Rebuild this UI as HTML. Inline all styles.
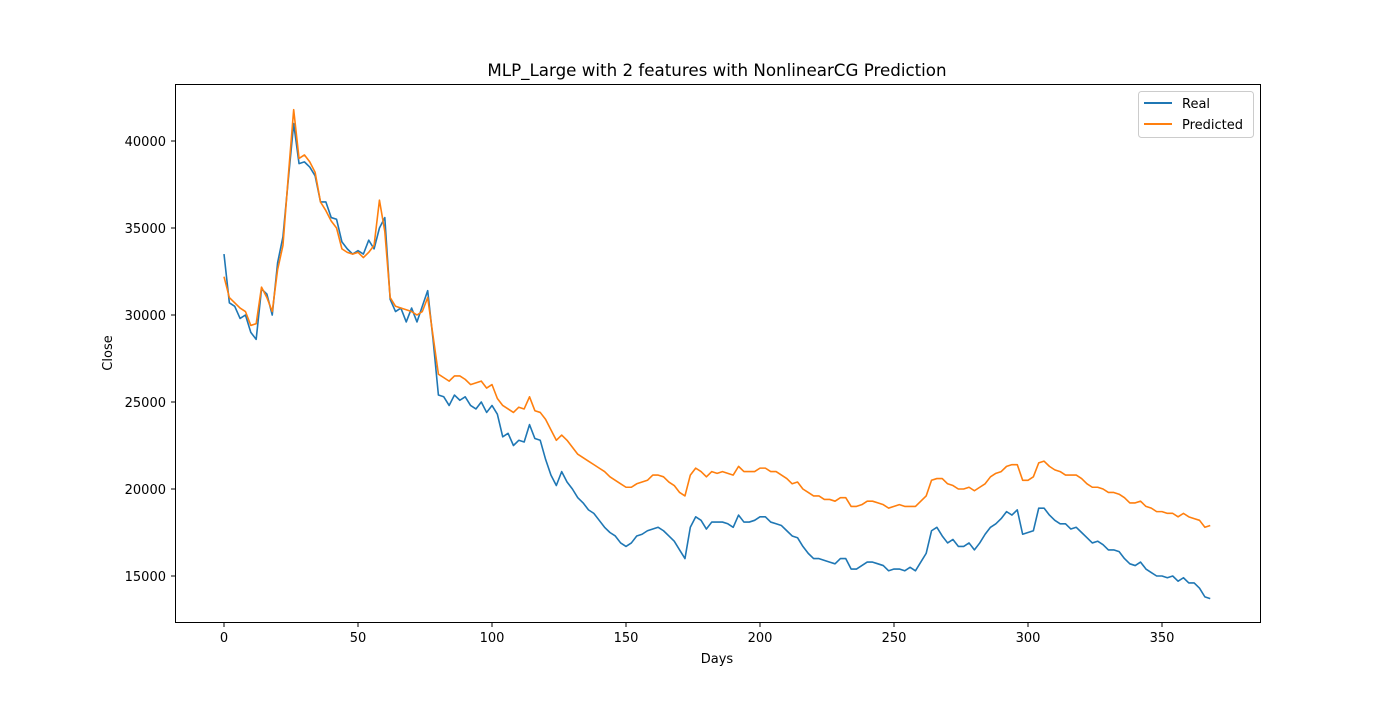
<!DOCTYPE html>
<html><head><meta charset="utf-8"><style>
body{margin:0;background:#fff;font-family:"Liberation Sans","DejaVu Sans",sans-serif;}
svg text{font-family:"DejaVu Sans","Liberation Sans",sans-serif;fill:#000;}
</style></head><body>
<svg id="chart" width="1400" height="700" xmlns="http://www.w3.org/2000/svg">
<rect width="1400" height="700" fill="#fff"/>
<text x="717" y="76" font-size="16.7" text-anchor="middle">MLP_Large with 2 features with NonlinearCG Prediction</text>
<g id="plot"></g>
<rect x="175.5" y="84.5" width="1085" height="538" fill="none" stroke="#000" stroke-width="1"/>
<g id="axes"></g>
<text x="717" y="663" font-size="13" text-anchor="middle">Days</text>
<text transform="translate(112,353) rotate(-90)" font-size="13" text-anchor="middle">Close</text>
<g>
<rect x="1138.5" y="91.5" width="115" height="46" rx="3" fill="#fff" stroke="#ccc"/>
<line x1="1144" y1="103" x2="1172" y2="103" stroke="#1f77b4" stroke-width="2"/>
<text x="1182" y="108" font-size="13">Real</text>
<line x1="1144" y1="124" x2="1172" y2="124" stroke="#ff7f0e" stroke-width="2"/>
<text x="1182" y="129" font-size="13">Predicted</text>
</g>
</svg>
<script>
const dayStep = 2;
const xTicks = [0,50,100,150,200,250,300,350];
const yTicks = [15000,20000,25000,30000,35000,40000];
const realValues = [33500,30700,30500,29800,30000,29000,28600,31500,31200,30000,33000,34500,37800,41000,38700,38800,38500,38000,36500,36500,35600,35500,34200,33800,33500,33700,33500,34300,33800,35000,35600,30900,30200,30400,29600,30400,29600,30500,31400,28600,25400,25300,24800,25400,25100,25300,24800,24600,25000,24400,24800,24300,23000,23200,22500,22800,22700,23700,22900,22800,21700,20800,20200,21000,20400,20000,19500,19200,18800,18600,18200,17800,17500,17300,16900,16700,16900,17300,17400,17600,17700,17800,17600,17300,17000,16500,16000,17800,18400,18200,17700,18100,18100,18100,18000,17800,18500,18100,18100,18200,18400,18400,18100,18000,17900,17600,17300,17200,16700,16300,16000,16000,15900,15800,15700,16000,16000,15400,15400,15600,15800,15800,15700,15600,15300,15400,15400,15300,15500,15300,15800,16300,17600,17800,17300,16900,17100,16700,16700,16900,16500,16900,17400,17800,18000,18300,18700,18500,18800,17400,17500,17600,18900,18900,18500,18200,18000,18000,17700,17800,17500,17200,16900,17000,16800,16500,16500,16400,16000,15700,15600,15800,15400,15200,15000,15000,14900,15000,14700,14900,14600,14600,14300,13800,13700];
const predictedValues = [32200,31000,30700,30400,30200,29400,29500,31600,31000,30200,32600,34000,38000,41800,39000,39200,38800,38200,36500,36000,35400,35000,33800,33600,33500,33600,33300,33600,34000,36600,34800,31000,30500,30400,30300,30200,30000,30200,31000,28800,26600,26400,26200,26500,26500,26300,26000,26100,26200,25800,26000,25200,24800,24600,24400,24700,24600,25300,24500,24400,24000,23400,22800,23100,22800,22400,22000,21800,21600,21400,21200,21000,20700,20500,20300,20100,20100,20300,20400,20500,20800,20800,20700,20400,20200,19800,19600,20800,21200,21000,20700,21000,20900,21000,20900,20800,21300,21000,21000,21000,21200,21200,21000,21000,20800,20600,20300,20400,20000,19800,19600,19600,19400,19400,19300,19500,19500,19000,19000,19100,19300,19300,19200,19100,18900,19000,19100,19000,19000,19000,19300,19600,20500,20600,20600,20300,20200,20000,20000,20100,19900,20100,20300,20700,20900,21000,21300,21400,21400,20500,20500,20700,21500,21600,21300,21100,21000,20800,20800,20800,20600,20300,20100,20100,20000,19800,19800,19700,19500,19200,19200,19300,19000,18900,18700,18700,18600,18600,18400,18600,18400,18300,18200,17800,17900];

const NS="http://www.w3.org/2000/svg";
function xs(d){return 224 + d*(1162-224)/350;}
function ys(v){return 141 + (40000-v)*(576-141)/25000;}
const axes=document.getElementById('axes'), plot=document.getElementById('plot');
xTicks.forEach(t=>{
  const x=xs(t);
  const l=document.createElementNS(NS,'line');
  l.setAttribute('x1',x);l.setAttribute('x2',x);l.setAttribute('y1',622.5);l.setAttribute('y2',627);l.setAttribute('stroke','#000');
  
  
  axes.appendChild(l);
  const tx=document.createElementNS(NS,'text');
  tx.setAttribute('x',x);tx.setAttribute('y',642);tx.setAttribute('font-size','13');tx.setAttribute('text-anchor','middle');
  tx.textContent=t;
  
  
  axes.appendChild(tx);
});
yTicks.forEach(t=>{
  const y=ys(t);
  const l=document.createElementNS(NS,'line');
  l.setAttribute('x1',171);l.setAttribute('x2',175.5);l.setAttribute('y1',y);l.setAttribute('y2',y);l.setAttribute('stroke','#000');
  
  
  axes.appendChild(l);
  const tx=document.createElementNS(NS,'text');
  tx.setAttribute('x',166);tx.setAttribute('y',y+5);tx.setAttribute('font-size','13');tx.setAttribute('text-anchor','end');
  tx.textContent=t;
  
  
  axes.appendChild(tx);
});
function series(vals,color,name){
  const p=document.createElementNS(NS,'polyline');
  p.setAttribute('points',vals.map((v,i)=>xs(i*dayStep).toFixed(2)+','+ys(v).toFixed(2)).join(' '));
  p.setAttribute('fill','none');p.setAttribute('stroke',color);p.setAttribute('stroke-width','1.6');p.setAttribute('stroke-linejoin','round');
  
  
  plot.appendChild(p);
}
series(realValues,'#1f77b4','real-line');
series(predictedValues,'#ff7f0e','predicted-line');
</script>
</body></html>
